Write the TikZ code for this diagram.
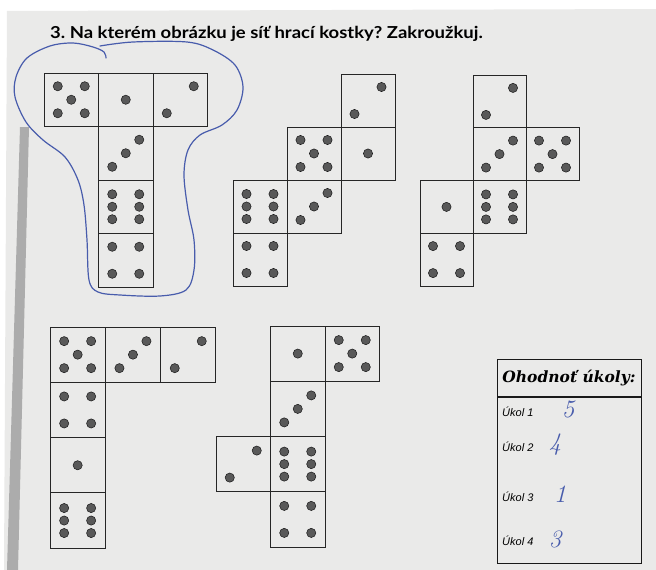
\documentclass[tikz,border=0pt]{standalone}
\usepackage{fontspec}
\usetikzlibrary{calc}
\newfontfamily\titlefont{Lato}[FakeStretch=1.12]
\newfontfamily\headfont{DejaVu Serif}
\newfontfamily\labelfont{Liberation Sans}
\definecolor{paper}{RGB}{234,234,233}
\definecolor{pencil}{RGB}{72,92,172}
\definecolor{barcol}{RGB}{172,172,172}
\tikzset{
  cell/.style 2 args={draw=black!85, line width=0.9pt, minimum width=#1pt, minimum height=#2pt, inner sep=0pt, outer sep=0pt},
  pipdot/.style={fill=black!65, draw=black!90, line width=0.5pt},
  evbox/.style={draw=black!90, line width=0.9pt, inner sep=0pt, outer sep=0pt},
  lbl/.style={font=\labelfont\itshape\fontsize{11}{13}\selectfont, inner sep=0pt},
  grade/.style={font=\itshape\fontsize{25}{25}\selectfont, text=pencil, inner sep=0pt},
  loopline/.style={draw=pencil, line width=1.2pt, line cap=round, line join=round}
}
\newcommand{\pipat}[3]{\filldraw[pipdot] ($(#1)+(#2,#3)$) circle (4.6pt);}
\newcommand{\dieface}[2]{%
  \ifcase#2\relax\or
    \pipat{#1}{0}{0}%
  \or
    \pipat{#1}{13.5}{-13.5}\pipat{#1}{-13.5}{13.5}%
  \or
    \pipat{#1}{13.5}{-13.5}\pipat{#1}{0}{0}\pipat{#1}{-13.5}{13.5}%
  \or
    \pipat{#1}{-13.5}{-13.5}\pipat{#1}{13.5}{-13.5}\pipat{#1}{-13.5}{13.5}\pipat{#1}{13.5}{13.5}%
  \or
    \pipat{#1}{-13.5}{-13.5}\pipat{#1}{13.5}{-13.5}\pipat{#1}{0}{0}\pipat{#1}{-13.5}{13.5}\pipat{#1}{13.5}{13.5}%
  \or
    \pipat{#1}{-13.5}{-12.5}\pipat{#1}{-13.5}{0}\pipat{#1}{-13.5}{12.5}\pipat{#1}{13.5}{-12.5}\pipat{#1}{13.5}{0}\pipat{#1}{13.5}{12.5}%
  \fi}
\begin{document}
\begin{tikzpicture}[x=1pt,y=-1pt]
\useasboundingbox (0,0) rectangle (656,570);
% paper
\fill[white] (0,0) rectangle (656,570);
\fill[paper] (7,11) -- (656,9) -- (656,570) -- (4,570) -- cycle;
\fill[barcol] (20,127) -- (29,127) -- (18,570) -- (7,570) -- cycle;

% title
\node[anchor=base west, inner sep=0pt] (title) at (50,38)
  {\titlefont\bfseries\frenchspacing\fontsize{16.5}{19}\selectfont 3. Na kterém obrázku je síť hrací kostky? Zakroužkuj.};

% net 1
\node[cell={54.5}{53.5}] (n1a) at (71.25,99.75) {}; \dieface{n1a}{5}
\node[cell={54.5}{53.5}] (n1b) at (125.75,99.75) {}; \dieface{n1b}{1}
\node[cell={54.5}{53.5}] (n1c) at (180.25,99.75) {}; \dieface{n1c}{2}
\node[cell={54.5}{53.5}] (n1d) at (125.75,153.25) {}; \dieface{n1d}{3}
\node[cell={54.5}{53.5}] (n1e) at (125.75,206.75) {}; \dieface{n1e}{6}
\node[cell={54.5}{53.5}] (n1f) at (125.75,260.25) {}; \dieface{n1f}{4}

% net 2
\node[cell={54}{53}] (n2a) at (368,100.5) {}; \dieface{n2a}{2}
\node[cell={54}{53}] (n2b) at (368,153.5) {}; \dieface{n2b}{1}
\node[cell={54}{53}] (n2c) at (314,153.5) {}; \dieface{n2c}{5}
\node[cell={54}{53}] (n2d) at (314,206.5) {}; \dieface{n2d}{3}
\node[cell={54}{53}] (n2e) at (260,206.5) {}; \dieface{n2e}{6}
\node[cell={54}{53}] (n2f) at (260,259.5) {}; \dieface{n2f}{4}

% net 3
\node[cell={53}{52.75}] (n3a) at (499.5,101.4) {}; \dieface{n3a}{2}
\node[cell={53}{52.75}] (n3b) at (499.5,154.1) {}; \dieface{n3b}{3}
\node[cell={53}{52.75}] (n3c) at (552.5,154.1) {}; \dieface{n3c}{5}
\node[cell={53}{52.75}] (n3d) at (499.5,206.9) {}; \dieface{n3d}{6}
\node[cell={53}{52.75}] (n3e) at (446.5,206.9) {}; \dieface{n3e}{1}
\node[cell={53}{52.75}] (n3f) at (446.5,259.6) {}; \dieface{n3f}{4}

% net 4
\node[cell={55.3}{55.3}] (n4a) at (77.65,354.65) {}; \dieface{n4a}{5}
\node[cell={55.3}{55.3}] (n4b) at (132.95,354.65) {}; \dieface{n4b}{3}
\node[cell={55.3}{55.3}] (n4c) at (188.25,354.65) {}; \dieface{n4c}{2}
\node[cell={55.3}{55.3}] (n4d) at (77.65,409.95) {}; \dieface{n4d}{4}
\node[cell={55.3}{55.3}] (n4e) at (77.65,465.25) {}; \dieface{n4e}{1}
\node[cell={55.3}{55.3}] (n4f) at (77.65,520.55) {}; \dieface{n4f}{6}

% net 5
\node[cell={54.5}{55.25}] (n5a) at (297.75,353.6) {}; \dieface{n5a}{1}
\node[cell={54.5}{55.25}] (n5b) at (352.25,353.6) {}; \dieface{n5b}{5}
\node[cell={54.5}{55.25}] (n5c) at (297.75,408.9) {}; \dieface{n5c}{3}
\node[cell={54.5}{55.25}] (n5d) at (243.25,464.1) {}; \dieface{n5d}{2}
\node[cell={54.5}{55.25}] (n5e) at (297.75,464.1) {}; \dieface{n5e}{6}
\node[cell={54.5}{55.25}] (n5f) at (297.75,519.4) {}; \dieface{n5f}{4}

% hand-drawn loop around net 1
\draw[loopline] plot[smooth, tension=0.55] coordinates {
 (100,46) (133,42) (187,42) (213,50) (235,65) (243,87) (237,110) (222,125)
 (200,135) (188,150) (184,175) (188,210) (194,240) (194,270) (186,290)
 (160,296) (120,295) (98,292) (89,280) (87,240) (84,205) (78,180) (65,157)
 (43,140) (26,122) (15,97) (16,77) (27,58) (50,46) (73,43) (93,47) (104,52) (106,58)};

% evaluation box
\node[evbox, minimum width=144pt, minimum height=38pt, anchor=north west] (evhead) at (497,359)
  {\headfont\bfseries\itshape\fontsize{15.5}{18}\selectfont Ohodnoť úkoly:};
\node[evbox, minimum width=144pt, minimum height=166pt, anchor=north west] (evbody) at (evhead.south west) {};
\draw[line width=1.6pt, black!90] (evhead.south west) -- (evhead.south east);

\node[lbl, anchor=west] (u1) at (502,412) {Úkol 1};
\node[lbl, anchor=west] (u2) at (502,447) {Úkol 2};
\node[lbl, anchor=west] (u3) at (502,497) {Úkol 3};
\node[lbl, anchor=west] (u4) at (502,541) {Úkol 4};

\node[grade] (g1) at (568,409) {5};
\node[grade] (g2) at (555,445) {4};
\node[grade] (g3) at (560,494) {1};
\node[grade] (g4) at (555,539) {3};
\end{tikzpicture}
\end{document}
